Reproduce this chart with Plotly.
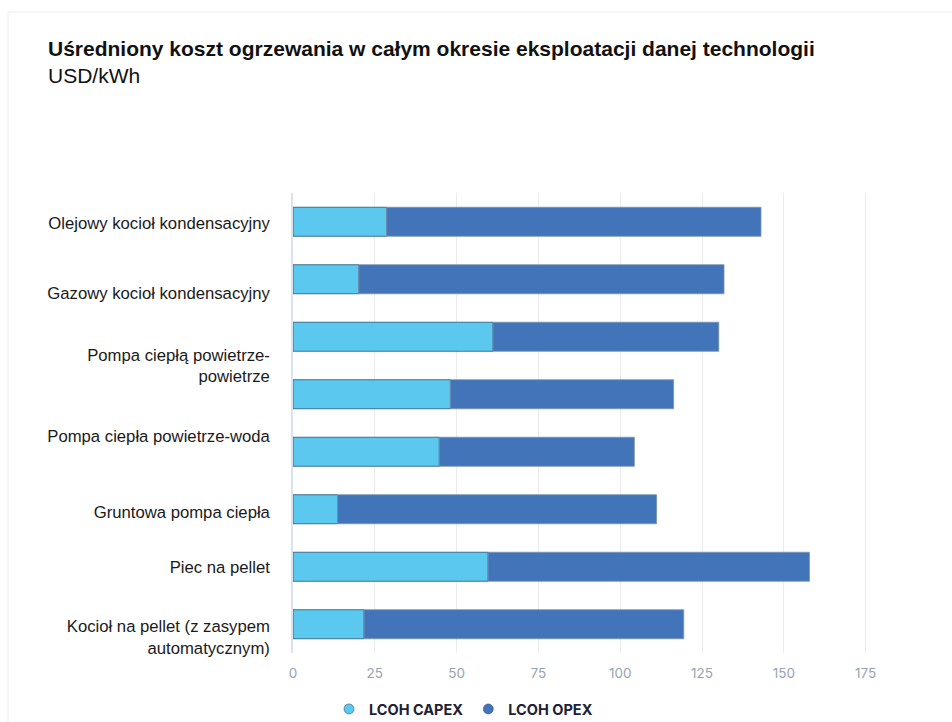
import plotly.graph_objects as go

# Levelised cost of heating, USD/kWh, split into capital and operating parts
bar_rows = [0, 1, 2, 3, 4, 5, 6, 7]
capex = [28.6, 20.1, 61.1, 48.1, 44.7, 13.6, 59.6, 21.7]
total = [143.0, 131.7, 130.1, 116.3, 104.3, 111.1, 157.8, 119.4]
opex = [t - c for t, c in zip(total, capex)]

# Technology labels and the rows they sit against
tech_labels = [
    "Olejowy kocioł kondensacyjny",
    "Gazowy kocioł kondensacyjny",
    "Pompa ciepłą powietrze-<br>powietrze",
    "Pompa ciepła powietrze-woda",
    "Gruntowa pompa ciepła",
    "Piec na pellet",
    "Kocioł na pellet (z zasypem<br>automatycznym)",
]
label_rows = [0.03, 1.24, 2.5, 3.72, 5.05, 6.0, 7.22]

x_ticks = [0, 25, 50, 75, 100, 125, 150, 175]
x_tick_text = ["0", "25", "50", "75", "100", "125", "150", "175"]

series_names = ["LCOH CAPEX", "LCOH OPEX"]
CAPEX_COLOR = "#5BC9EF"
OPEX_COLOR = "#4274B9"

fig = go.Figure()

fig.add_trace(go.Bar(
    y=bar_rows, x=capex, orientation="h", name=series_names[0],
    marker=dict(color=CAPEX_COLOR, line=dict(color="rgba(30,75,110,0.75)", width=1)),
    showlegend=False, hoverinfo="x",
))
fig.add_trace(go.Bar(
    y=bar_rows, x=opex, base=capex, orientation="h", name=series_names[1],
    marker=dict(color=OPEX_COLOR, line=dict(color="rgba(125,145,175,0.8)", width=1)),
    showlegend=False, hoverinfo="x",
))

# Round legend markers
for name, color in zip(series_names, [CAPEX_COLOR, OPEX_COLOR]):
    fig.add_trace(go.Scatter(
        x=[None], y=[None], mode="markers", name=name,
        marker=dict(symbol="circle", size=10, color=color,
                    line=dict(color="rgba(40,60,90,0.5)", width=1)),
        showlegend=True,
    ))

fig.update_layout(
    width=952, height=722,
    margin=dict(l=293, r=83, t=193, b=69, autoexpand=False),
    paper_bgcolor="white", plot_bgcolor="white",
    barmode="overlay", bargap=0.495,
    font=dict(family="Liberation Sans, Arial, sans-serif", color="#1a1a1a"),
    title=dict(
        text="<b>Uśredniony koszt ogrzewania w całym okresie eksploatacji danej technologii</b>"
             "<br><span style='font-size:21px'>USD/kWh</span>",
        x=48 / 952, xanchor="left", xref="container",
        y=1 - 56 / 722, yanchor="top", yref="container",
        font=dict(size=21, color="#111111"),
    ),
    legend=dict(
        orientation="h", x=329 / 952, xanchor="left", xref="container",
        y=13 / 722, yanchor="middle", yref="container",
        font=dict(family="Inter, Roboto, sans-serif", size=14.5, color="#1c2233", weight="bold"),
        itemwidth=30, traceorder="normal",
    ),
    showlegend=True,
)

fig.update_xaxes(
    range=[0, 176], tickvals=x_ticks, ticktext=x_tick_text,
    showgrid=True, gridcolor="#ebebeb", gridwidth=1,
    zeroline=False, showline=False,
    tickfont=dict(family="Inter, Roboto, sans-serif", size=13.5, color="#97a3b0"),
    ticks="", ticklabelstandoff=10,
)
fig.update_yaxes(
    range=[7.5, -0.5], tickvals=label_rows, ticktext=tech_labels,
    showgrid=False, zeroline=False,
    showline=True, linecolor="#dbe3ef", linewidth=1.5,
    tickfont=dict(family="Liberation Sans, Arial, sans-serif", size=16.7, color="#1a1a1a"),
    ticks="", ticklabelstandoff=18,
)

# Faint card frame
fig.add_shape(type="rect", xref="paper", yref="paper",
              x0=(8 - 293) / 576, x1=2, y0=-1, y1=(653 - 12) / 460,
              line=dict(color="#ececec", width=1), fillcolor="rgba(0,0,0,0)", layer="below")

fig.write_html("out.html")
